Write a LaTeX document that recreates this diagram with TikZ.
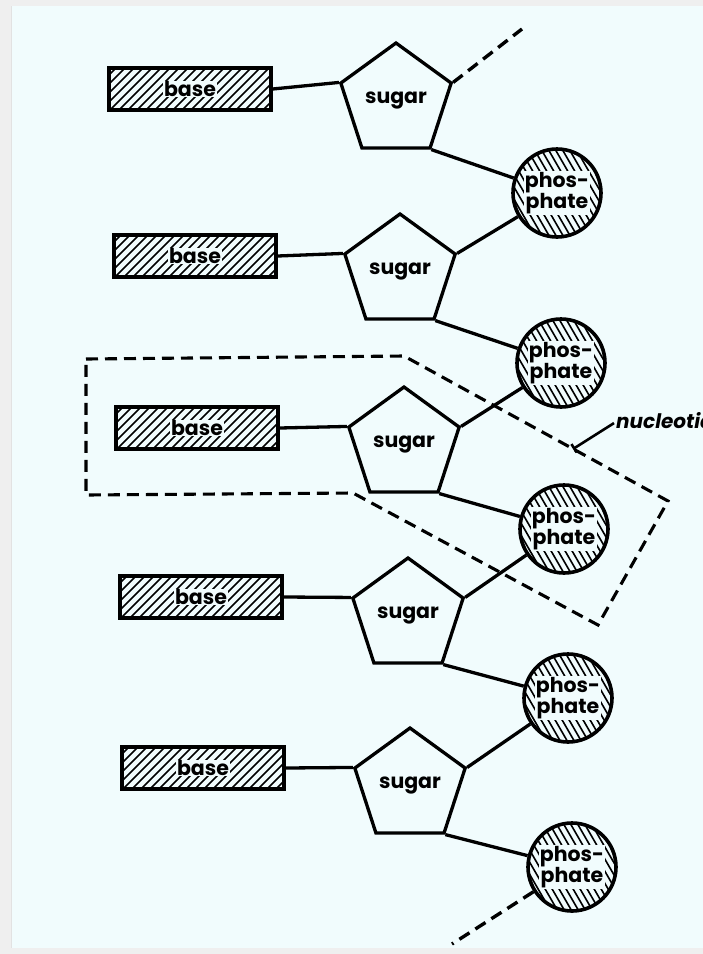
\documentclass[tikz,border=0pt]{standalone}
\usepackage{fontspec}
\setmainfont{Poppins}
\usetikzlibrary{shapes.geometric,arrows.meta}
\definecolor{bgcyan}{HTML}{F1FCFD}
\definecolor{bggray}{HTML}{EFEFEF}
\definecolor{edgegray}{HTML}{E2E2E2}
\begin{document}
\begin{tikzpicture}[x=1pt,y=-1pt,
  basebox/.style={draw, line width=3.4pt, minimum width=162pt, minimum height=42pt, inner sep=0pt,
    fill=bgcyan,
    path picture={
      \foreach \k in {0,9,...,216} {
        \draw[line width=1.7pt] ([xshift=\k pt-44pt]path picture bounding box.south west) -- ++(44pt,44pt);
      }
    }},
  sugarbox/.style={draw, line width=3.3pt, regular polygon, regular polygon sides=5,
    minimum size=116pt, inner sep=0pt, fill=bgcyan},
  phosbox/.style={draw, circle, line width=3.6pt, minimum size=88pt, inner sep=0pt, fill=bgcyan,
    path picture={
      \foreach \k in {-56,-49,...,98} {
        \draw[line width=1.6pt] ([xshift=\k pt]path picture bounding box.north west) -- ++(52pt,-90pt);
      }
    }},
  txt/.style={font=\fontsize{20.5}{21}\selectfont\bfseries, inner sep=0.6pt, fill=bgcyan, align=center},
  ptxt/.style={font=\fontsize{20.5}{20}\selectfont\bfseries, inner sep=0.6pt, fill=bgcyan, align=center},
  bond/.style={line width=3.3pt},
  dashbond/.style={line width=3.4pt, dash pattern=on 12pt off 7pt},
  outline/.style={line width=3.1pt, dash pattern=on 12pt off 7pt, line join=miter},
]
\useasboundingbox (0,0) rectangle (703,954);
\fill[bggray] (0,0) rectangle (703,954);
\fill[bgcyan] (12,6) rectangle (703,948);
\draw[edgegray, line width=1.5pt] (11.5,6) -- (11.5,948);

% bases
\node[basebox] (b1) at (190,89) {};
\node[basebox] (b2) at (195,256) {};
\node[basebox] (b3) at (197,428) {};
\node[basebox] (b4) at (201,597) {};
\node[basebox] (b5) at (203,768) {};
\foreach \i in {1,...,5} {\node[txt] at (b\i) {base};}

% sugars
\node[sugarbox] (s1) at (396,101) {};
\node[sugarbox] (s2) at (400,272) {};
\node[sugarbox] (s3) at (404,445) {};
\node[sugarbox] (s4) at (408,616) {};
\node[sugarbox] (s5) at (410,786) {};
\foreach \i in {1,...,5} {\node[txt, fill=none] at (s\i) {sugar};}

% phosphates
\node[phosbox] (p1) at (557,193) {};
\node[phosbox] (p2) at (561,363) {};
\node[phosbox] (p3) at (564,529) {};
\node[phosbox] (p4) at (568,698) {};
\node[phosbox] (p5) at (572,867) {};
\foreach \i in {1,...,5} {\node[ptxt] at (p\i) {phos-\\phate};}

% bonds
\foreach \i in {1,...,5} {
  \draw[bond] (b\i.east) -- (s\i.corner 2);
  \draw[bond] (s\i.corner 4) -- (p\i);
}
\foreach \i/\j in {1/2,2/3,3/4,4/5} {
  \draw[bond] (p\i) -- (s\j.corner 5);
}

% chain continues
\coordinate (t0) at (522,29);
\coordinate (t1) at (452,944);
\draw[dashbond] (s1.corner 5) -- (t0);
\draw[dashbond] (p5) -- (t1);

% nucleotide outline
\coordinate (n1) at (86,359);
\coordinate (n2) at (404,356);
\coordinate (n3) at (668,501);
\coordinate (n4) at (598,625);
\coordinate (n5) at (353,493);
\coordinate (n6) at (86,495);
\draw[outline] (n1) -- (n2) -- (n3) -- (n4) -- (n5) -- (n6) -- cycle;

% label
\node[anchor=base west, inner sep=0pt, font=\fontsize{20}{22}\selectfont\bfseries\itshape] (nl) at (616,428) {nucleotide};
\coordinate (lt) at (573,449);
\draw[line width=2.6pt, -{Bar[width=10pt,line width=2.6pt]}] ([xshift=-2pt,yshift=-3pt]nl.west) -- (lt);
\end{tikzpicture}
\end{document}
